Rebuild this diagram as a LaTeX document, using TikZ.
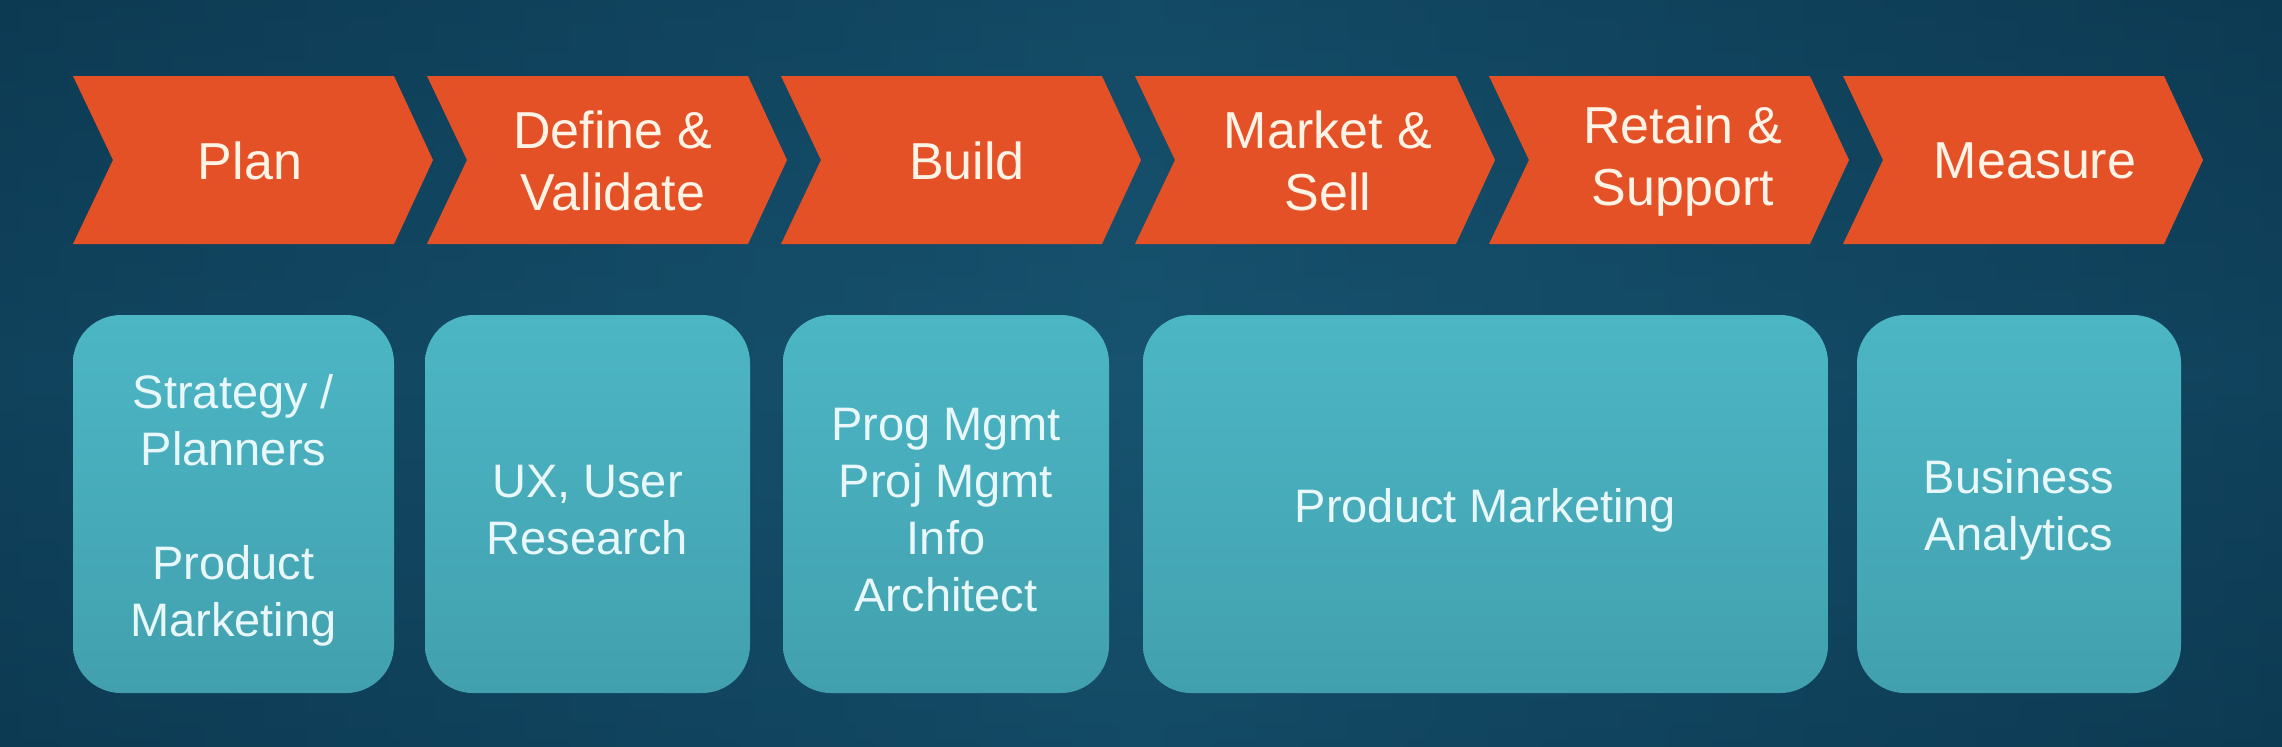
\documentclass[tikz,border=0pt]{standalone}
\usepackage{fontspec}
\setmainfont{Liberation Sans}
\definecolor{bgdark}{HTML}{0D3A53}
\definecolor{bglight}{HTML}{17536F}
\definecolor{chev}{HTML}{E55127}
\definecolor{chevtext}{HTML}{FFF3E6}
\definecolor{boxtop}{HTML}{4CB6C5}
\definecolor{boxbot}{HTML}{42A0AE}
\definecolor{boxtext}{HTML}{E8F7F9}
\begin{document}
\begin{tikzpicture}[x=0.5pt,y=-0.5pt,
  chevfill/.style={fill=chev},
  chevlabel/.style={text=chevtext,align=center,font=\fontsize{26}{31}\selectfont},
  rolebox/.style={rounded corners=24pt,top color=boxtop,bottom color=boxbot,draw=none,
    minimum height=189pt,inner sep=0pt},
  roletext/.style={text=boxtext,align=center,inner sep=0pt,yshift=-3pt,
    font=\fontsize{23.5}{28.5}\selectfont}]
\useasboundingbox (0,0) rectangle (2282,746);
\shade[left color=bgdark,right color=bgdark,middle color=bglight] (0,0) rectangle (2282,746);
\shade[top color=bgdark,bottom color=bgdark,middle color=bglight,opacity=0.35] (0,0) rectangle (2282,746);
% chevrons
\foreach \L/\dx/\name/\txt in {73/-3/c1/Plan,427/6/c2/{Define \&\\Validate},781/6/c3/Build,1135/13/c4/{Market \&\\Sell},1489/14/c5/{Retain \&\\Support},1843/12/c6/Measure}{
  \fill[chevfill] (\L,76) -- ({\L+321},76) -- ({\L+360},160) -- ({\L+321},244) -- (\L,244) -- ({\L+40},160) -- cycle;
  \node[chevlabel] (\name) at ({\L+180+\dx},161) {\txt};
}
% role boxes
\node[rolebox,minimum width=160.5pt] (b1) at (233.5,504) {};
\node[rolebox,minimum width=162.5pt] (b2) at (587.5,504) {};
\node[rolebox,minimum width=163pt] (b3) at (946,504) {};
\node[rolebox,minimum width=342.5pt] (b4) at (1485.5,504) {};
\node[rolebox,minimum width=162pt] (b5) at (2019,504) {};
\node[roletext] (t1) at (b1.center) {Strategy /\\Planners\\[28.5pt]Product\\Marketing};
\node[roletext] (t2) at (b2.center) {UX, User\\Research};
\node[roletext] (t3) at (b3.center) {Prog Mgmt\\Proj Mgmt\\Info\\Architect};
\node[roletext] (t4) at (b4.center) {Product Marketing};
\node[roletext] (t5) at (b5.center) {Business\\Analytics};
\end{tikzpicture}
\end{document}
